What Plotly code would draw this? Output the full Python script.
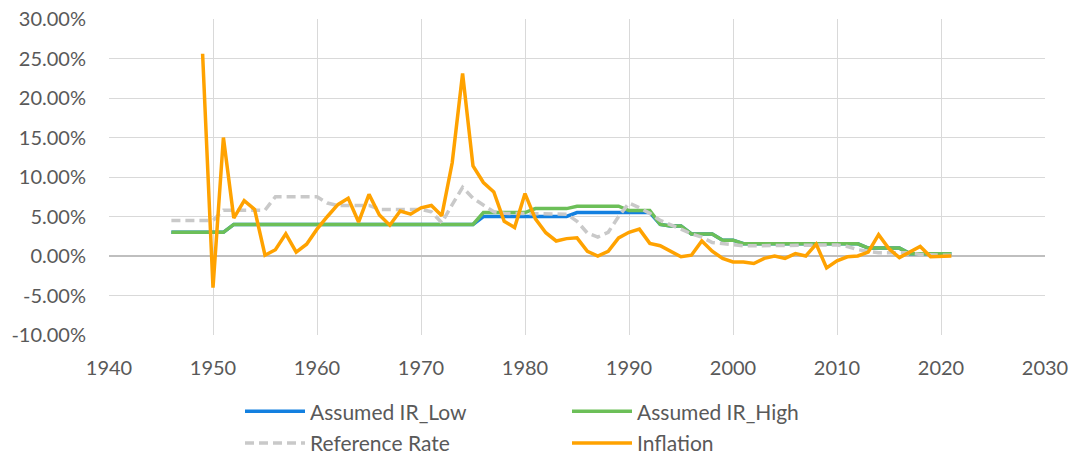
import plotly.graph_objects as go

years = list(range(1946, 2022))

ir_high = ([3.0] * 6 + [4.0] * 24 + [5.5] * 5 + [6.0] * 4 + [6.3] * 5 + [5.75] * 3 +
           [4.0, 3.8, 3.8, 2.8, 2.8, 2.8, 2.0, 2.0] + [1.55] * 12 + [1.0] * 4 + [0.3] * 5)

ir_low = ([3.0] * 6 + [4.0] * 24 + [5.0] * 9 + [5.5] * 8 +
          [4.0, 3.8, 3.8, 2.8, 2.8, 2.8, 2.0, 2.0] + [1.55] * 12 + [1.0] * 4 + [0.3] * 5)

ref_rate = [4.5, 4.5, 4.5, 4.5, 4.5, 5.8, 5.8, 5.8, 5.8, 5.8,
            7.5, 7.5, 7.5, 7.5, 7.5, 6.7, 6.4, 6.4, 6.4, 6.4,
            5.9, 5.9, 5.9, 5.9, 5.9, 5.6, 4.2, 6.5, 8.7, 7.3,
            6.5, 5.6, 5.4, 5.4, 5.4, 5.4, 5.4, 5.4, 5.3, 4.4,
            2.9, 2.4, 3.0, 5.0, 6.7, 6.1, 5.4, 4.5, 4.0, 3.4,
            2.8, 2.4, 1.7, 1.55, 1.45, 1.3, 1.3, 1.3, 1.35, 1.4,
            1.4, 1.4, 1.4, 1.4, 1.4, 1.2, 0.8, 0.6, 0.4, 0.4,
            0.4, 0.4, 0.2, 0.1, 0.1, 0.1]

infl_years = list(range(1949, 2022))
inflation = [25.6, -4.0, 15.0, 4.8, 7.0, 5.9, 0.1, 0.8, 2.8, 0.5,
             1.5, 3.4, 5.0, 6.5, 7.3, 4.3, 7.8, 5.2, 3.9, 5.7,
             5.3, 6.1, 6.4, 5.1, 11.8, 23.1, 11.4, 9.3, 8.1, 4.4,
             3.6, 7.9, 4.7, 2.95, 1.9, 2.2, 2.3, 0.6, 0.0, 0.6,
             2.3, 3.0, 3.4, 1.6, 1.3, 0.6, -0.1, 0.1, 1.9, 0.6,
             -0.3, -0.75, -0.75, -0.95, -0.3, 0.0, -0.3, 0.3, 0.0, 1.5,
             -1.5, -0.6, -0.1, 0.0, 0.5, 2.7, 0.9, -0.2, 0.5, 1.2,
             -0.1, 0.0, 0.0]

x_ticks = list(range(1940, 2031, 10))
y_ticks = list(range(-10, 31, 5))
y_tick_labels = ["-10.00%", "-5.00%", "0.00%", "5.00%", "10.00%",
                 "15.00%", "20.00%", "25.00%", "30.00%"]

FONT = "Lato"
TXT = "#595959"
GRID = "#d9d9d9"

fig = go.Figure()
fig.add_trace(go.Scatter(x=years, y=ir_low, mode="lines", name="Assumed IR_Low",
                         line=dict(color="#1380E0", width=3.5), legend="legend"))
fig.add_trace(go.Scatter(x=years, y=ir_high, mode="lines", name="Assumed IR_High",
                         line=dict(color="#6CBF58", width=3.5), legend="legend"))
fig.add_trace(go.Scatter(x=years, y=ref_rate, mode="lines", name="Reference Rate",
                         line=dict(color="#C9C9C9", width=3.5, dash="9px,5px"), legend="legend2"))
fig.add_trace(go.Scatter(x=infl_years, y=inflation, mode="lines", name="Inflation",
                         line=dict(color="#FFA200", width=3.5), legend="legend2"))

leg_common = dict(orientation="h", xanchor="left", yanchor="middle",
                  xref="container", yref="container",
                  font=dict(family=FONT, size=21, color=TXT),
                  itemwidth=60, entrywidth=252, bgcolor="rgba(0,0,0,0)")

fig.update_layout(
    width=1072, height=456,
    margin=dict(l=109, r=27, t=19, b=121, autoexpand=False),
    paper_bgcolor="white", plot_bgcolor="white",
    font=dict(family=FONT, size=20, color=TXT),
    legend=dict(x=240 / 1072, y=1 - 411.7 / 456, **leg_common),
    legend2=dict(x=240 / 1072, y=1 - 443.3 / 456, **leg_common),
    xaxis=dict(range=[1940, 2030], tickvals=x_ticks, showgrid=True, gridcolor=GRID,
               gridwidth=1.3, zeroline=False, showline=False, ticks="",
               ticklabelstandoff=19, tickfont=dict(family=FONT, size=20, color=TXT)),
    yaxis=dict(range=[-10, 30], tickvals=y_ticks, ticktext=y_tick_labels,
               showgrid=True, gridcolor=GRID, gridwidth=1.3, zeroline=True,
               zerolinecolor="#bfbfbf", zerolinewidth=2, showline=False, ticks="",
               ticklabelstandoff=22, tickfont=dict(family=FONT, size=20, color=TXT)),
)

fig.write_html("out.html", config={"displayModeBar": False},
               post_script="document.body.style.margin='0';")
